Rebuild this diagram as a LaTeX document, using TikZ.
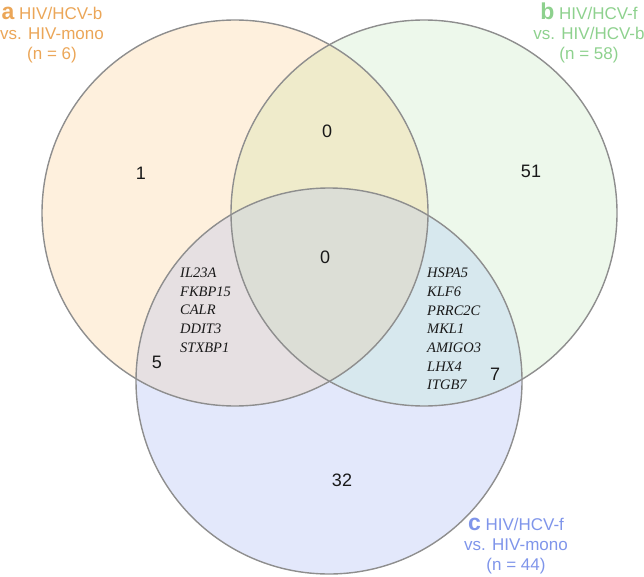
\documentclass[tikz,border=0pt]{standalone}
\usepackage{fontspec}
\setmainfont{Liberation Sans}
\newfontfamily\genefont{Liberation Serif}
\definecolor{colA}{HTML}{FEF0DD}
\definecolor{colB}{HTML}{EDF8EB}
\definecolor{colC}{HTML}{E3E8FB}
\definecolor{colAB}{HTML}{EFEBCB}
\definecolor{colAC}{HTML}{E6E0E2}
\definecolor{colBC}{HTML}{D7E8EE}
\definecolor{colABC}{HTML}{DCDED6}
\definecolor{ringcol}{HTML}{8E8E8E}
\definecolor{txtA}{HTML}{EBA658}
\definecolor{txtB}{HTML}{8ED18E}
\definecolor{txtC}{HTML}{7F95EA}
\begin{document}
\begin{tikzpicture}[x=1pt,y=-1pt,
  ring/.style={draw=ringcol,line width=1.4pt},
  setlabel/.style={align=center,inner sep=0pt,font=\fontsize{17}{20}\selectfont},
  count/.style={inner sep=0pt,text=black!90,font=\fontsize{18}{20}\selectfont},
  genes/.style={align=left,inner sep=0pt,anchor=west,text=black!90,font=\genefont\itshape\fontsize{14.5}{18.7}\selectfont}]
\useasboundingbox (0,0) rectangle (644,577);
\coordinate (A) at (235,213);
\coordinate (B) at (424,213);
\coordinate (C) at (329,381);
\def\R{193pt}
\fill[colA] (A) circle[radius=\R];
\fill[colB] (B) circle[radius=\R];
\fill[colC] (C) circle[radius=\R];
\begin{scope}\clip (A) circle[radius=\R]; \fill[colAB] (B) circle[radius=\R]; \end{scope}
\begin{scope}\clip (A) circle[radius=\R]; \fill[colAC] (C) circle[radius=\R]; \end{scope}
\begin{scope}\clip (B) circle[radius=\R]; \fill[colBC] (C) circle[radius=\R]; \end{scope}
\begin{scope}\clip (A) circle[radius=\R]; \clip (B) circle[radius=\R]; \fill[colABC] (C) circle[radius=\R]; \end{scope}
\draw[ring] (A) circle[radius=\R];
\draw[ring] (B) circle[radius=\R];
\draw[ring] (C) circle[radius=\R];
% set labels
\node[setlabel,text=txtA] (la) at (52,35) {{\bfseries\fontsize{23}{20}\selectfont a} HIV/HCV-b\\vs. HIV-mono\\(n = 6)};
\node[setlabel,text=txtB] (lb) at (589,33) {{\bfseries\fontsize{23}{20}\selectfont b} HIV/HCV-f\\vs. HIV/HCV-b\\(n = 58)};
\node[setlabel,text=txtC] (lc) at (516,546) {{\bfseries\fontsize{23}{20}\selectfont c} HIV/HCV-f\\vs. HIV-mono\\(n = 44)};
% counts
\node[count] (n1) at (141,173) {1};
\node[count] (n2) at (327,131) {0};
\node[count] (n3) at (531,171) {51};
\node[count] (n4) at (325,257) {0};
\node[count] (n5) at (157,362) {5};
\node[count] (n6) at (495,374) {7};
\node[count] (n7) at (342,480) {32};
% gene lists
\node[genes] (gl) at (180,310) {IL23A\\FKBP15\\CALR\\DDIT3\\STXBP1};
\node[genes] (gr) at (427,329) {HSPA5\\KLF6\\PRRC2C\\MKL1\\AMIGO3\\LHX4\\ITGB7};
\end{tikzpicture}
\end{document}
